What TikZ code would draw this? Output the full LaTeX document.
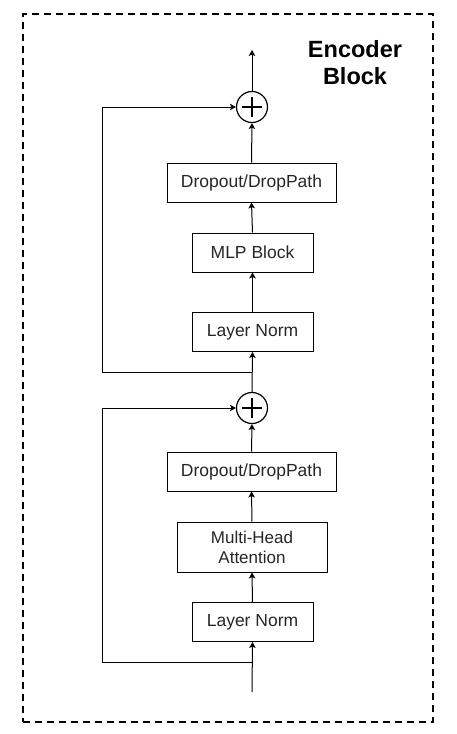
\documentclass[tikz,border=0pt]{standalone}
\usepackage{fontspec}
\setmainfont{Liberation Sans}
\usetikzlibrary{arrows.meta,calc}
\begin{document}
\begin{tikzpicture}[x=1pt,y=-1pt,
  box/.style={draw=black,line width=1pt,minimum height=39pt,inner sep=0pt,font=\fontsize{17.5}{20}\selectfont,text=black!85,align=center},
  plusnode/.style={draw=black,line width=1.2pt,circle,minimum size=31pt,inner sep=0pt},
  conn/.style={line width=1pt,-{Stealth[length=6pt,width=6.5pt,inset=1.5pt]}},
  skip/.style={line width=1pt,-{Stealth[length=6pt,width=6.5pt,inset=1.5pt]}}
]
\useasboundingbox (0,0) rectangle (457,734);
\node[draw=black,line width=1.3pt,dash pattern=on 7pt off 5pt,minimum width=410pt,minimum height=708pt,inner sep=0pt] (frame) at (228,368) {};
\node[font=\fontsize{23.5}{27}\selectfont\bfseries,align=center] (title) at (355,63) {Encoder\\Block};

\node[plusnode] (plusA) at (252,107) {};
\node[plusnode] (plusB) at (252,408) {};
\foreach \p in {plusA,plusB}{
  \draw[line width=1.2pt] ([xshift=-10pt]\p.center) -- ([xshift=10pt]\p.center);
  \draw[line width=1.2pt] ([yshift=-10pt]\p.center) -- ([yshift=10pt]\p.center);
}

\node[box,minimum width=169pt] (doA) at (251.5,182.5) {Dropout/DropPath};
\node[box,minimum width=121pt] (mlp) at (252.5,252.5) {MLP Block};
\node[box,minimum width=121pt] (lnA) at (252.5,332) {Layer Norm};
\node[box,minimum width=169pt] (doB) at (251.5,471.5) {Dropout/DropPath};
\node[box,minimum width=150pt,minimum height=50pt,font=\fontsize{17}{20}\selectfont] (mha) at (252,547) {Multi-Head\\Attention};
\node[box,minimum width=121pt] (lnB) at (252.5,622) {Layer Norm};

\coordinate (in) at (252,692);
\coordinate (jB) at (252,662);
\coordinate (jA) at (252,372);
\coordinate (out) at (252,50);
\coordinate (lB) at (102,662);
\coordinate (lA) at (102,372);

\draw[conn] (in) -- (lnB.south);
\draw[conn] (lnB.north) -- (mha.south);
\draw[conn] (mha.north) -- (doB.south);
\draw[conn] (doB.north) -- (plusB.south);
\draw[conn] (plusB.north) -- (lnA.south);
\draw[conn] (lnA.north) -- (mlp.south);
\draw[conn] (mlp.north) -- (doA.south);
\draw[conn] (doA.north) -- (plusA.south);
\draw[conn] (plusA.north) -- (out);
\draw[skip] (jB) -- (lB) |- (plusB.west);
\draw[skip] (jA) -- (lA) |- (plusA.west);
\end{tikzpicture}
\end{document}
